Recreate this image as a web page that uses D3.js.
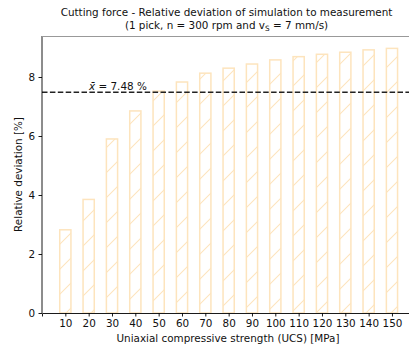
<!DOCTYPE html>
<html>
<head>
<meta charset="utf-8">
<script src="https://cdn.jsdelivr.net/npm/d3@7/dist/d3.min.js"></script>
<style>
  html, body { margin: 0; padding: 0; background: #fff; }
  svg { display: block; font-family: "DejaVu Sans", sans-serif; }
</style>
</head>
<body>
<svg id="chart" width="409" height="349"></svg>
<script>
// Uniaxial compressive strength classes [MPa]
const ucs = [10, 20, 30, 40, 50, 60, 70, 80, 90, 100, 110, 120, 130, 140, 150];
// Relative deviation of simulated to measured cutting force [%]
const deviation = [2.82, 3.85, 5.90, 6.85, 7.52, 7.83, 8.13, 8.30, 8.44, 8.58, 8.69, 8.77, 8.84, 8.92, 8.97];
// Mean deviation [%]
const meanDeviation = 7.48;
const yTicks = [0, 2, 4, 6, 8];

const svg = d3.select("#chart");

const x = d3.scaleLinear().domain([0, 157.3]).range([42, 409]);
const y = d3.scaleLinear().domain([0, 9.39]).range([313, 36]);
const barWidth = 4.8; // in MPa units

const barColor = "#fde4bd";
const fontSize = 10.4;

// diagonal hatch pattern, aligned to the page
const defs = svg.append("defs");
const pat = defs.append("pattern")
  .attr("id", "hatch")
  .attr("patternUnits", "userSpaceOnUse")
  .attr("width", 25).attr("height", 25)
  .attr("y", 4);
pat.append("path")
  .attr("d", "M-2,27 L27,-2 M-2,2 L2,-2 M23,27 L27,23")
  .attr("stroke", barColor).attr("stroke-width", 1.1).attr("fill", "none");

defs.append("clipPath").attr("id", "plotClip")
  .append("rect").attr("x", 42).attr("y", 36).attr("width", 367).attr("height", 277);

const plot = svg.append("g").attr("clip-path", "url(#plotClip)");

// bars
plot.selectAll("rect.bar")
  .data(ucs)
  .join("rect")
  .attr("class", "bar")
  .attr("x", (d) => x(d - barWidth / 2))
  .attr("width", (d) => x(d + barWidth / 2) - x(d - barWidth / 2))
  .attr("y", (d, i) => y(deviation[i]))
  .attr("height", (d, i) => y(0) - y(deviation[i]))
  .attr("fill", "url(#hatch)")
  .attr("stroke", barColor)
  .attr("stroke-width", 1.5);

// mean line
plot.append("line")
  .attr("x1", x(0)).attr("x2", 409)
  .attr("y1", y(meanDeviation)).attr("y2", y(meanDeviation))
  .attr("stroke", "#222")
  .attr("stroke-width", 1.5)
  .attr("stroke-dasharray", "5.5,2.4");

// mean label
const meanLabel = svg.append("text")
  .attr("x", 89).attr("y", y(meanDeviation) - 2.5)
  .attr("font-size", fontSize).attr("fill", "#111");
meanLabel.append("tspan").attr("font-style", "italic").text("x\u0304");
meanLabel.append("tspan").text(" = " + meanDeviation.toFixed(2) + " %");

// axes
const xAxis = d3.axisBottom(x).tickValues(ucs).tickSize(3.5).tickPadding(3.5).tickFormat(d3.format("d"));
const gx = svg.append("g").attr("transform", `translate(0,${y(0)})`).call(xAxis);
gx.select(".domain").attr("stroke", "#000").attr("stroke-width", 0.9);
gx.selectAll(".tick line").attr("stroke", "#000").attr("stroke-width", 0.9);
gx.selectAll(".tick text").attr("font-size", fontSize).attr("fill", "#111").attr("font-family", "DejaVu Sans");

const yAxis = d3.axisLeft(y).tickValues(yTicks).tickSize(3.5).tickPadding(3.5).tickFormat(d3.format("d"));
const gy = svg.append("g").attr("transform", `translate(${x(0)},0)`).call(yAxis);
gy.select(".domain").attr("d", `M0,${y(0)}V36`).attr("stroke", "#000").attr("stroke-width", 0.9);
gy.selectAll(".tick line").attr("stroke", "#000").attr("stroke-width", 0.9);
gy.selectAll(".tick text").attr("font-size", fontSize).attr("fill", "#111").attr("font-family", "DejaVu Sans");

// top spine
svg.append("line")
  .attr("x1", 42).attr("x2", 409).attr("y1", 36.5).attr("y2", 36.5)
  .attr("stroke", "#999").attr("stroke-width", 1.2);

// axis labels
svg.append("text")
  .attr("x", 228).attr("y", 342)
  .attr("text-anchor", "middle").attr("font-size", fontSize).attr("fill", "#111")
  .text("Uniaxial compressive strength (UCS) [MPa]");

svg.append("text")
  .attr("transform", `translate(22,${(36 + 313) / 2}) rotate(-90)`)
  .attr("text-anchor", "middle").attr("font-size", fontSize).attr("fill", "#111")
  .text("Relative deviation [%]");

// title
svg.append("text")
  .attr("x", 226.5).attr("y", 16)
  .attr("text-anchor", "middle").attr("font-size", fontSize).attr("fill", "#111")
  .text("Cutting force - Relative deviation of simulation to measurement");
const t2 = svg.append("text")
  .attr("x", 226.5).attr("y", 29)
  .attr("text-anchor", "middle").attr("font-size", fontSize).attr("fill", "#111");
t2.append("tspan").text("(1 pick, n = 300 rpm and v");
t2.append("tspan").attr("font-size", 7.3).attr("dy", 2).text("S");
t2.append("tspan").attr("dy", -2).text(" = 7 mm/s)");
</script>
</body>
</html>
